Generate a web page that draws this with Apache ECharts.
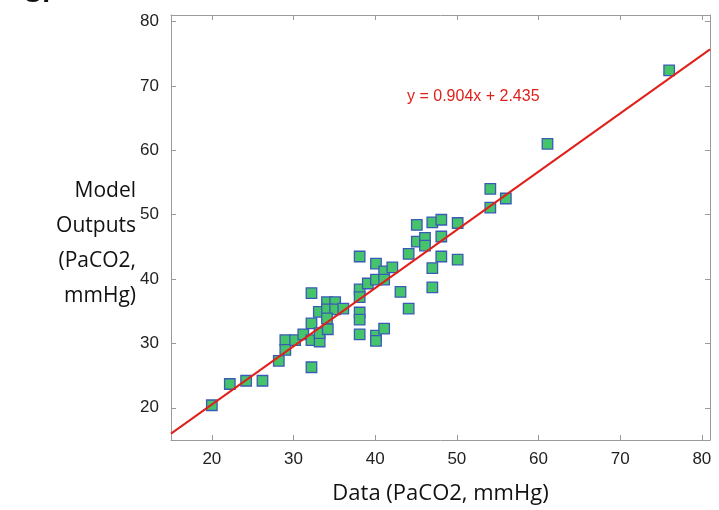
<!DOCTYPE html>
<html><head><meta charset="utf-8">
<script src="https://cdn.jsdelivr.net/npm/echarts@6/dist/echarts.min.js"></script>
<style>html,body{margin:0;padding:0;background:#fff}#c{width:719px;height:510px}</style>
</head><body><div id="c"></div>
<script>
const dataX = [20,22.2,24.2,26.2,28.2,29,29,30.2,31.2,32.2,32.2,32.2,32.2,33.2,33.2,33.1,34.1,35.1,34.1,35.1,36.1,34.1,34.2,38.1,38.1,38.1,38.1,38.1,38.1,39.1,40.1,40.1,41.1,41.1,42.1,40.1,40.1,41.1,43.1,44.1,44.1,45.1,45.1,46.1,46.1,47.0,48.1,48.1,48.1,47.0,47.0,50.1,50.1,54.1,54.1,56.0,61.1,76.0];
const dataY = [20.4,23.7,24.2,24.2,27.3,30.5,29.0,30.5,31.4,30.5,33.1,37.8,26.3,30.3,31.6,34.9,36.4,36.4,35.3,35.3,35.4,33.9,32.2,38.4,37.2,43.5,34.8,33.7,31.4,39.3,39.9,42.4,41.2,39.9,41.8,31.2,30.4,32.3,38.0,35.4,43.9,48.4,45.8,46.4,45.2,48.8,49.2,46.6,43.5,41.7,38.7,48.7,43.0,54.0,51.1,52.5,61.0,72.4];
const tickValues = [20,30,40,50,60,70,80];
const slope = 0.904, intercept = 2.435;
const axisMin = 15, axisMax = 81;
const eqText = 'y = 0.904x + 2.435';
const xTitle = 'Data (PaCO2, mmHg)';
const yTitle = 'Model\nOutputs\n(PaCO2,\nmmHg)';

const points = dataX.map((x,i)=>[x,dataY[i]]);
const fitLine = [[axisMin, slope*axisMin+intercept],[axisMax, slope*axisMax+intercept]];

const chart = echarts.init(document.getElementById('c'));
const axisCommon = {
  type:'value', min:axisMin, max:axisMax,
  axisLine:{show:true, lineStyle:{color:'#9a9a9a', width:1}},
  axisTick:{show:true, inside:true, length:5, customValues:tickValues, lineStyle:{color:'#9a9a9a'}},
  splitLine:{show:false}
};
const labelStyle = {show:true, customValues:tickValues, color:'#222', fontSize:17, margin:11, fontFamily:'Liberation Sans'};
chart.setOption({
  animation:false,
  grid:{left:171, right:9, top:15, bottom:69},
  xAxis:[
    Object.assign({}, axisCommon, {position:'bottom', axisLabel:labelStyle,
      name:xTitle, nameLocation:'middle', nameGap:43,
      nameTextStyle:{fontSize:22, color:'#111', fontFamily:'Open Sans'}}),
    Object.assign({}, axisCommon, {position:'top', axisLabel:{show:false}})
  ],
  yAxis:[
    Object.assign({}, axisCommon, {position:'left', axisLabel:Object.assign({}, labelStyle, {margin:12})}),
    Object.assign({}, axisCommon, {position:'right', axisLabel:{show:false}})
  ],
  graphic:[
    {type:'text', x:136, y:244, style:{text:yTitle, fill:'#111', font:'21px "Open Sans"', align:'right', verticalAlign:'middle', lineHeight:35}},
    {type:'text', x:407, y:97, style:{text:eqText, fill:'#e0201b', font:'16px "Liberation Sans"', align:'left', verticalAlign:'middle'}},
    {type:'text', x:22, y:8, style:{text:'C.', fill:'#111', font:'bold 28px "Liberation Sans"', align:'left', verticalAlign:'bottom'}}
  ],
  series:[
    {type:'line', data:fitLine, showSymbol:false, symbol:'none', lineStyle:{color:'#e0201b', width:2}, z:3, silent:true},
    {type:'scatter', data:points, symbol:'rect', symbolSize:10.5,
      itemStyle:{color:'#46c46b', borderColor:'#3a5bb5', borderWidth:1.3, opacity:1}, z:2}
  ]
});
</script></body></html>
